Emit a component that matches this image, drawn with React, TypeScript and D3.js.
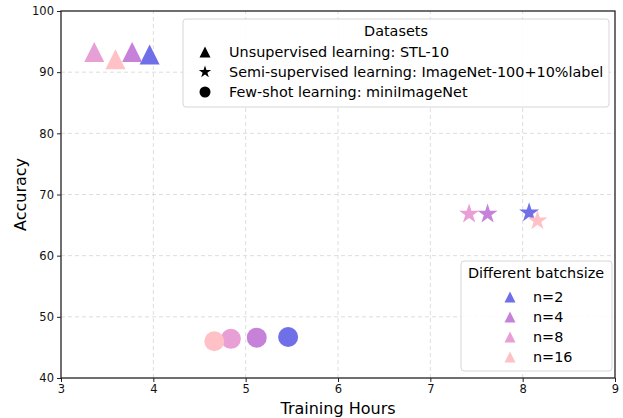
import React, { useEffect, useRef } from 'react';
import * as d3 from 'd3';

// batch sizes and their colours
const batchLabels = ['n=2', 'n=4', 'n=8', 'n=16'];
const batchColors = ['#6f6fe8', '#c582d8', '#e89fd6', '#ffc1c6'];

// x = training hours, y = accuracy, one entry per batch size
const stlHours = [3.96, 3.77, 3.36, 3.59];
const stlAcc = [92.9, 93.3, 93.3, 92.1];
const semiHours = [8.07, 7.62, 7.42, 8.16];
const semiAcc = [67.0, 66.8, 66.8, 65.7];
const fewHours = [5.46, 5.12, 4.84, 4.66];
const fewAcc = [46.7, 46.6, 46.4, 46.0];

const datasetLabels = [
  'Unsupervised learning: STL-10',
  'Semi-supervised learning: ImageNet-100+10%label',
  'Few-shot learning: miniImageNet',
];

const xTicks = [3, 4, 5, 6, 7, 8, 9];
const yTicks = [40, 50, 60, 70, 80, 90, 100];

const W = 623;
const H = 418;
const margin = { left: 61, right: 8, top: 11, bottom: 40 };
const font = 'DejaVu Sans, sans-serif';
const legendFont = 14.4;

// matplotlib style '^' marker: apex on top, centre halfway
const triangleType = {
  draw(ctx: any, size: number) {
    const h = Math.sqrt(size) / 2;
    ctx.moveTo(0, -h);
    ctx.lineTo(h, h);
    ctx.lineTo(-h, h);
    ctx.closePath();
  },
};

function shapeFor(kind: string, s: number): string {
  if (kind === 'tri') return d3.symbol().type(triangleType as any).size(s * s)() as string;
  if (kind === 'star') return d3.symbol().type(d3.symbolStar).size((s * s) / 4 / 0.8908)() as string;
  return d3.symbol().type(d3.symbolCircle).size((Math.PI * s * s) / 4)() as string;
}

export default function App() {
  const ref = useRef<SVGSVGElement>(null);

  useEffect(() => {
    const svg = d3.select(ref.current);
    svg.selectAll('*').remove();

    const x = d3.scaleLinear().domain([3, 9]).range([margin.left, W - margin.right]);
    const y = d3.scaleLinear().domain([40, 100]).range([H - margin.bottom, margin.top]);

    const grid = svg.append('g');
    grid.selectAll('line.vx')
      .data(xTicks.slice(1, -1))
      .enter().append('line')
      .attr('x1', d => x(d)).attr('x2', d => x(d))
      .attr('y1', y(40)).attr('y2', y(100))
      .attr('stroke', '#d4d4d4').attr('stroke-dasharray', '4,3').attr('stroke-width', 0.8);
    grid.selectAll('line.hy')
      .data(yTicks.slice(1, -1))
      .enter().append('line')
      .attr('y1', d => y(d)).attr('y2', d => y(d))
      .attr('x1', x(3)).attr('x2', x(9))
      .attr('stroke', '#d4d4d4').attr('stroke-dasharray', '4,3').attr('stroke-width', 0.8);

    const series = [
      { kind: 'tri', xs: stlHours, ys: stlAcc, size: 20 },
      { kind: 'star', xs: semiHours, ys: semiAcc, size: 21 },
      { kind: 'circle', xs: fewHours, ys: fewAcc, size: 20 },
    ];
    series.forEach(s => {
      svg.append('g').selectAll('path')
        .data(batchLabels.map((_, i) => i))
        .enter().append('path')
        .attr('d', shapeFor(s.kind, s.size))
        .attr('transform', i => `translate(${x(s.xs[i])},${y(s.ys[i])})`)
        .attr('fill', i => batchColors[i]);
    });

    // axes
    const xAxis = svg.append('g')
      .attr('transform', `translate(0,${y(40)})`)
      .call(d3.axisBottom(x).tickValues(xTicks).tickSize(4).tickPadding(3).tickFormat(d3.format('d')));
    const yAxis = svg.append('g')
      .attr('transform', `translate(${x(3)},0)`)
      .call(d3.axisLeft(y).tickValues(yTicks).tickSize(4).tickPadding(3).tickFormat(d3.format('d')));
    [xAxis, yAxis].forEach(a => {
      a.select('.domain').remove();
      a.selectAll('line').attr('stroke', '#222');
      a.selectAll('text').attr('font-family', font).attr('font-size', 11.5).attr('fill', '#111');
    });

    svg.append('rect')
      .attr('x', x(3)).attr('y', y(100))
      .attr('width', x(9) - x(3)).attr('height', y(40) - y(100))
      .attr('fill', 'none').attr('stroke', '#222').attr('stroke-width', 1.3);

    svg.append('text')
      .attr('x', (x(3) + x(9)) / 2).attr('y', 414)
      .attr('text-anchor', 'middle').attr('font-family', font).attr('font-size', 16)
      .text('Training Hours');
    svg.append('text')
      .attr('transform', `translate(26,${(y(40) + y(100)) / 2}) rotate(-90)`)
      .attr('text-anchor', 'middle').attr('font-family', font).attr('font-size', 16)
      .text('Accuracy');

    // dataset legend
    const lg1 = svg.append('g');
    lg1.append('rect')
      .attr('x', 183).attr('y', 19).attr('width', 426).attr('height', 88).attr('rx', 3)
      .attr('fill', 'white').attr('fill-opacity', 0.85).attr('stroke', '#d6d6d6');
    lg1.append('text')
      .attr('x', 396).attr('y', 36).attr('text-anchor', 'middle')
      .attr('font-family', font).attr('font-size', legendFont).text('Datasets');
    ['tri', 'star', 'circle'].forEach((k, i) => {
      const cy = 52 + i * 20;
      lg1.append('path')
        .attr('d', shapeFor(k, k === 'star' ? 13 : 11))
        .attr('transform', `translate(205,${cy})`)
        .attr('fill', '#000');
      lg1.append('text')
        .attr('x', 229).attr('y', cy + 5)
        .attr('font-family', font).attr('font-size', legendFont).text(datasetLabels[i]);
    });

    // batch size legend
    const lg2 = svg.append('g');
    lg2.append('rect')
      .attr('x', 461).attr('y', 261).attr('width', 151).attr('height', 110).attr('rx', 3)
      .attr('fill', 'white').attr('fill-opacity', 0.85).attr('stroke', '#d6d6d6');
    lg2.append('text')
      .attr('x', 536).attr('y', 278).attr('text-anchor', 'middle')
      .attr('font-family', font).attr('font-size', legendFont).text('Different batchsize');
    batchLabels.forEach((b, i) => {
      const cy = 297 + i * 20;
      lg2.append('path')
        .attr('d', shapeFor('tri', 11))
        .attr('transform', `translate(510,${cy})`)
        .attr('fill', batchColors[i]);
      lg2.append('text')
        .attr('x', 533).attr('y', cy + 5)
        .attr('font-family', font).attr('font-size', legendFont).text(b);
    });
  }, []);

  return (
    <svg ref={ref} width={W} height={H}
      style={{ position: 'absolute', left: 0, top: 0, background: 'white' }} />
  );
}
